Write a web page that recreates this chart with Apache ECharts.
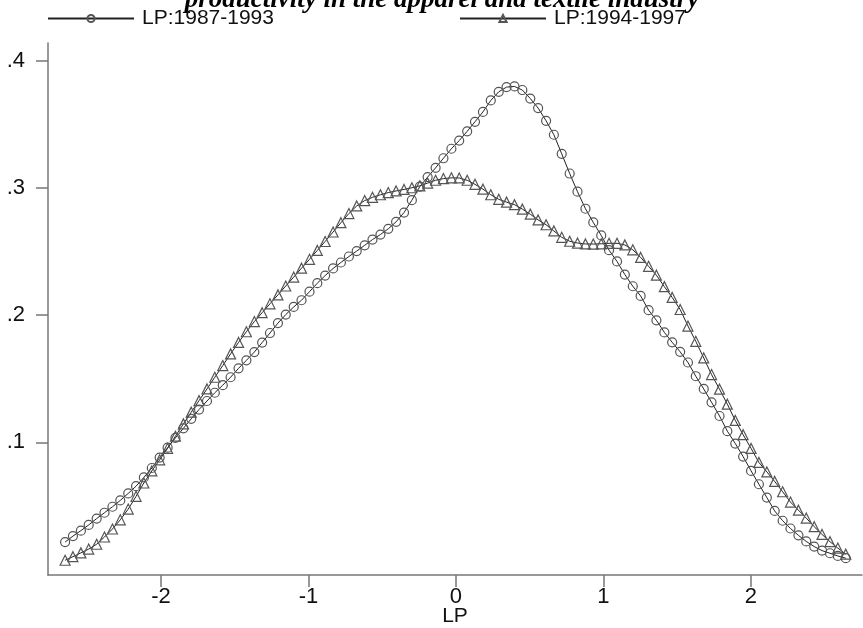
<!DOCTYPE html>
<html><head><meta charset="utf-8">
<script src="https://cdn.jsdelivr.net/npm/echarts@6/dist/echarts.min.js"></script>
<style>html,body{margin:0;padding:0;background:#fff}#c{width:863px;height:628px}</style>
</head><body><div id="c"></div>
<script>
const titleText = 'productivity in the apparel and textile industry';
const seriesNames = ['LP:1987-1993', 'LP:1994-1997'];
const xTicks = [-2, -1, 0, 1, 2];
const yTicks = [0.1, 0.2, 0.3, 0.4];
const yTickLabels = ['.1', '.2', '.3', '.4'];
const xs = [-2.650,-2.597,-2.543,-2.490,-2.436,-2.383,-2.329,-2.276,-2.222,-2.169,
 -2.116,-2.062,-2.009,-1.955,-1.902,-1.848,-1.795,-1.742,-1.688,-1.635,
 -1.581,-1.528,-1.474,-1.421,-1.367,-1.314,-1.261,-1.207,-1.154,-1.100,
 -1.047,-0.993,-0.940,-0.887,-0.833,-0.780,-0.726,-0.673,-0.619,-0.566,
 -0.512,-0.459,-0.406,-0.352,-0.299,-0.245,-0.192,-0.138,-0.085,-0.031,
 0.022,0.076,0.129,0.183,0.236,0.290,0.343,0.397,0.450,0.504,
 0.557,0.611,0.664,0.717,0.771,0.824,0.878,0.931,0.985,1.038,
 1.092,1.145,1.199,1.252,1.306,1.359,1.413,1.466,1.520,1.573,
 1.626,1.680,1.733,1.787,1.840,1.894,1.947,2.001,2.054,2.108,
 2.161,2.215,2.268,2.322,2.375,2.429,2.482,2.536,2.589,2.643];
const lp8793 = [0.0215,0.0262,0.0305,0.0350,0.0400,0.0446,0.0493,0.0543,0.0598,0.0655,
 0.0724,0.0798,0.0880,0.0958,0.1035,0.1110,0.1185,0.1258,0.1325,0.1390,
 0.1450,0.1512,0.1582,0.1645,0.1710,0.1785,0.1860,0.1938,0.2005,0.2065,
 0.2118,0.2185,0.2252,0.2312,0.2368,0.2415,0.2462,0.2505,0.2550,0.2595,
 0.2635,0.2680,0.2735,0.2808,0.2905,0.3012,0.3087,0.3160,0.3235,0.3310,
 0.3374,0.3447,0.3522,0.3600,0.3690,0.3758,0.3795,0.3800,0.3772,0.3705,
 0.3630,0.3530,0.3420,0.3270,0.3115,0.2972,0.2838,0.2730,0.2628,0.2512,
 0.2423,0.2320,0.2228,0.2152,0.2040,0.1960,0.1865,0.1787,0.1712,0.1628,
 0.1520,0.1420,0.1315,0.1207,0.1088,0.0990,0.0888,0.0775,0.0670,0.0565,
 0.0460,0.0383,0.0322,0.0268,0.0220,0.0180,0.0148,0.0127,0.0106,0.0088];
const lp9497 = [0.0072,0.0100,0.0130,0.0160,0.0198,0.0255,0.0318,0.0390,0.0475,0.0575,
 0.0680,0.0775,0.0862,0.0953,0.1048,0.1145,0.1237,0.1328,0.1420,0.1512,
 0.1604,0.1696,0.1786,0.1870,0.1950,0.2020,0.2090,0.2160,0.2230,0.2300,
 0.2370,0.2440,0.2510,0.2580,0.2655,0.2728,0.2800,0.2860,0.2902,0.2928,
 0.2948,0.2965,0.2978,0.2990,0.3003,0.3018,0.3040,0.3062,0.3075,0.3081,
 0.3080,0.3062,0.3030,0.2992,0.2948,0.2912,0.2890,0.2870,0.2835,0.2795,
 0.2750,0.2712,0.2663,0.2613,0.2582,0.2568,0.2561,0.2560,0.2562,0.2566,
 0.2566,0.2553,0.2515,0.2455,0.2385,0.2315,0.2225,0.2140,0.2045,0.1915,
 0.1795,0.1664,0.1533,0.1418,0.1300,0.1172,0.1060,0.0952,0.0842,0.0767,
 0.0692,0.0611,0.0530,0.0466,0.0404,0.0336,0.0275,0.0218,0.0168,0.0120];

const chart = echarts.init(document.getElementById('c'), null, {renderer: 'canvas'});
const FONT = 'Liberation Sans, Arial, sans-serif';
function mk(name, vals, symbol) {
  return {
    name: name, type: 'line', data: xs.map((x, i) => [x, vals[i]]),
    symbol: symbol, symbolSize: symbol === 'circle' ? 9 : 10,
    showAllSymbol: true, smooth: false, animation: false,
    lineStyle: {color: '#222', width: 1},
    itemStyle: {color: 'rgba(255,255,255,0)', borderColor: '#555', borderWidth: 1.2}
  };
}
const legendCommon = {
  top: 8, padding: 0, itemWidth: 86, itemHeight: 9, itemGap: 10,
  textStyle: {fontFamily: FONT, fontSize: 21, color: '#111', padding: [0, 0, 0, 3]}
};
chart.setOption({
  animation: false,
  backgroundColor: '#fff',
  graphic: [{
    type: 'text', x: 442, y: 14,
    style: {text: titleText, fill: '#000', align: 'center', verticalAlign: 'bottom',
      font: 'italic bold 27px "Liberation Serif", "Times New Roman", serif'}
  }],
  legend: [
    Object.assign({}, legendCommon, {left: 47, data: [seriesNames[0]]}),
    Object.assign({}, legendCommon, {left: 459, data: [seriesNames[1]]})
  ],
  grid: {left: 48, right: 1, top: 43, bottom: 53, containLabel: false, outerBoundsMode: 'none'},
  xAxis: {
    type: 'value', min: -2.766, max: 2.753,
    name: 'LP', nameLocation: 'middle', nameGap: 31, nameMoveOverlap: false,
    nameTextStyle: {fontFamily: FONT, fontSize: 21, color: '#111'},
    axisLine: {onZero: false, lineStyle: {color: '#777', width: 1.5}},
    axisTick: {show: true, length: 12, customValues: xTicks, lineStyle: {color: '#777', width: 1.5}},
    axisLabel: {customValues: xTicks, margin: 11, fontFamily: FONT, fontSize: 22, color: '#111',
      formatter: v => String(v)},
    splitLine: {show: false}
  },
  yAxis: {
    type: 'value', min: -0.0044, max: 0.4142,
    axisLine: {show: true, onZero: false, lineStyle: {color: '#777', width: 1.5}},
    axisTick: {show: true, length: 12, customValues: yTicks, lineStyle: {color: '#777', width: 1.5}},
    axisLabel: {customValues: yTicks, margin: 23, fontFamily: FONT, fontSize: 22, color: '#111',
      formatter: v => yTickLabels[yTicks.findIndex(t => Math.abs(t - v) < 1e-6)] || ''},
    splitLine: {show: false}
  },
  series: [mk(seriesNames[0], lp8793, 'circle'), mk(seriesNames[1], lp9497, 'triangle')]
});
</script></body></html>
